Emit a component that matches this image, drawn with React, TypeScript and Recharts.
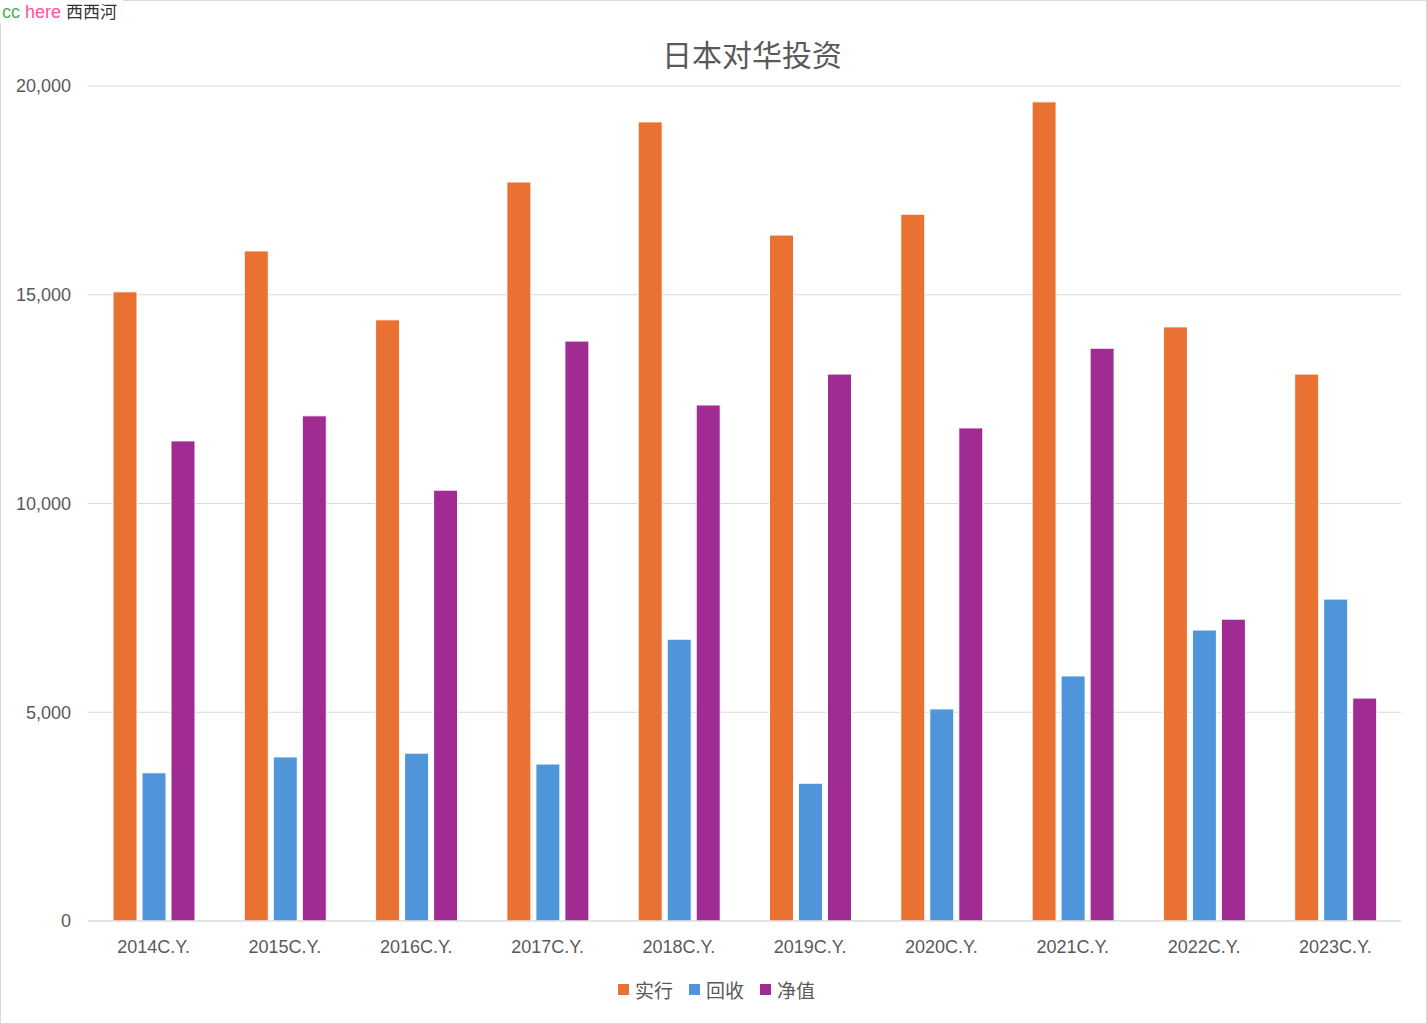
import React from 'react';
import { BarChart, Bar, XAxis, YAxis, CartesianGrid, Legend } from 'recharts';

const years = ['2014C.Y.', '2015C.Y.', '2016C.Y.', '2017C.Y.', '2018C.Y.', '2019C.Y.', '2020C.Y.', '2021C.Y.', '2022C.Y.', '2023C.Y.'];
const executed = [15070, 16050, 14400, 17700, 19140, 16430, 16930, 19620, 14230, 13100];
const recovered = [3550, 3930, 4020, 3760, 6750, 3300, 5080, 5870, 6970, 7710];
const net = [11500, 12100, 10320, 13890, 12360, 13100, 11810, 13720, 7230, 5340];
const yTicks = [0, 5000, 10000, 15000, 20000];
const seriesNames = ['实行', '回收', '净值'];
const seriesColors = ['#E97132', '#4E95D9', '#A02B93'];

const data = years.map((y, i) => ({ year: y, 实行: executed[i], 回收: recovered[i], 净值: net[i] }));

const font = "'Liberation Sans', 'Noto Sans CJK SC', sans-serif";
const cjk = "'Noto Sans CJK SC', 'Liberation Sans', sans-serif";

// legend in the original series order
const renderLegend = () => (
  <div style={{ display: 'flex', justifyContent: 'center', alignItems: 'center', height: 36, transform: 'translate(16px, 10px)', fontFamily: cjk, fontSize: 19, color: '#595959' }}>
    {seriesNames.map((n, i) => (
      <span key={n} style={{ display: 'inline-flex', alignItems: 'center', margin: '0 8px' }}>
        <span style={{ width: 11, height: 11, background: seriesColors[i], marginRight: 6, display: 'inline-block' }} />
        {n}
      </span>
    ))}
  </div>
);

export default function App() {
  return (
    <div style={{ position: 'absolute', left: 0, top: 0, width: 1427, height: 1024, background: '#fff', fontFamily: font }}>
      <div style={{ position: 'absolute', inset: 0, border: '1px solid #d9d9d9', boxSizing: 'border-box' }} />
      <BarChart
        width={1427}
        height={1024}
        data={data}
        margin={{ top: 86, right: 26, bottom: 27, left: 0 }}
        barGap={5}
        barSize={24}
      >
        <CartesianGrid vertical={false} stroke="#d9d9d9" />
        <XAxis
          dataKey="year"
          axisLine={{ stroke: '#d9d9d9' }}
          tickLine={false}
          tick={{ fill: '#595959', fontSize: 18, fontFamily: font }}
          tickMargin={13}
          height={40}
        />
        <YAxis
          ticks={yTicks}
          domain={[0, 20000]}
          axisLine={false}
          tickLine={false}
          tickSize={0}
          tickMargin={17}
          width={88}
          tickFormatter={(v) => v.toLocaleString('en-US')}
          tick={{ fill: '#595959', fontSize: 18, fontFamily: font }}
        />
        <Legend content={renderLegend} />
        {seriesNames.map((n, i) => (
          <Bar key={n} dataKey={n} fill={seriesColors[i]} stroke="#fff" strokeWidth={1} isAnimationActive={false} />
        ))}
      </BarChart>
      <div style={{ position: 'absolute', left: 0, right: 0, top: 33, textAlign: 'center', paddingLeft: 77, fontSize: 30, color: '#595959', fontFamily: cjk, lineHeight: '40px' }}>
        日本对华投资
      </div>
      <div style={{ position: 'absolute', left: 0, top: 0, padding: '0 6px 0 2px', background: '#fff', fontSize: 18, lineHeight: '22px', fontFamily: font }}>
        <span style={{ color: '#4caf50' }}>cc</span>{' '}
        <span style={{ color: '#ff4fa0' }}>here</span>{' '}
        <span style={{ color: '#333', fontFamily: cjk, fontSize: 17 }}>西西河</span>
      </div>
    </div>
  );
}
